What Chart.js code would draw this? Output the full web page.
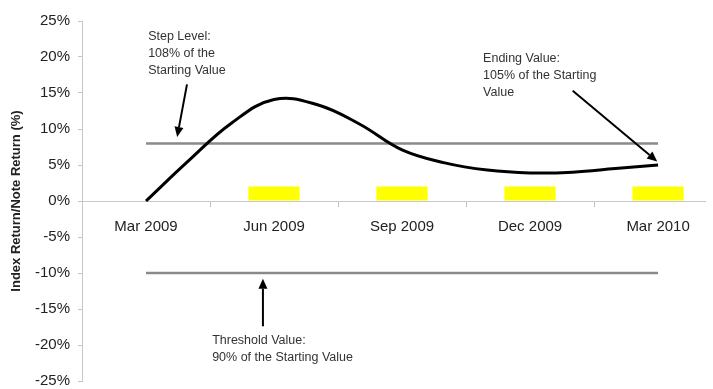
<!DOCTYPE html>
<html>
<head>
<meta charset="utf-8">
<script src="https://cdn.jsdelivr.net/npm/chart.js@4.4.1/dist/chart.umd.min.js"></script>
<style>
  html, body { margin: 0; padding: 0; background: #fff; }
  #wrap { width: 713px; height: 389px; }
</style>
</head>
<body>
<div id="wrap"><canvas id="chart" width="713" height="389"></canvas></div>
<script>
// monthly index return
var months = ["Mar 2009","Apr 2009","May 2009","Jun 2009","Jul 2009","Aug 2009","Sep 2009",
  "Oct 2009","Nov 2009","Dec 2009","Jan 2010","Feb 2010","Mar 2010"];
var indexReturn = [0, 5.6, 10.8, 14.1, 13.4, 10.7, 7.1, 5.3, 4.3, 3.9, 4.0, 4.5, 5.0];

var tickLabels = ["Mar 2009","Jun 2009","Sep 2009","Dec 2009","Mar 2010"];
var couponMonths = ["Jun 2009","Sep 2009","Dec 2009","Mar 2010"];
var couponValues = [2, 2, 2, 2];

var stepLevel = 8;
var thresholdLevel = -10;

// annotations, in chart values (x = month index, y = %)
var notes = [
  {lines: ["Step Level:", "108% of the", "Starting Value"], x: 0.05, y: 22.9},
  {lines: ["Ending Value:", "105% of the Starting", "Value"], x: 7.9, y: 19.8},
  {lines: ["Threshold Value:", "90% of the Starting Value"], x: 1.55, y: -19.4}
];
var arrows = [
  {from: [0.96, 16.2], to: [0.73, 8.9]},
  {from: [10.0, 15.3], to: [11.98, 5.5]},
  {from: [2.74, -17.4], to: [2.74, -10.8]}
];

var first = 0, last = months.length - 1;
var labelPos = tickLabels.map(function(l){ return months.indexOf(l); });

Chart.defaults.font.family = '"Liberation Sans", Arial, sans-serif';

var notePlugin = {
  id: 'notes',
  afterDatasetsDraw: function(chart) {
    var c = chart.ctx, xs = chart.scales.x, ys = chart.scales.y;
    c.save();
    c.font = '12.5px "Liberation Sans", Arial, sans-serif';
    c.fillStyle = '#333';
    c.textBaseline = 'middle';
    notes.forEach(function(n) {
      var px = xs.getPixelForValue(n.x), py = ys.getPixelForValue(n.y);
      n.lines.forEach(function(t, i) { c.fillText(t, px, py + i * 17); });
    });
    c.strokeStyle = '#000';
    c.fillStyle = '#000';
    c.lineWidth = 2;
    arrows.forEach(function(a) {
      var x1 = xs.getPixelForValue(a.from[0]), y1 = ys.getPixelForValue(a.from[1]);
      var x2 = xs.getPixelForValue(a.to[0]), y2 = ys.getPixelForValue(a.to[1]);
      var ang = Math.atan2(y2 - y1, x2 - x1);
      var hl = 10, hw = 4.5;
      var bx = x2 - hl * Math.cos(ang), by = y2 - hl * Math.sin(ang);
      c.beginPath();
      c.moveTo(x1, y1);
      c.lineTo(bx, by);
      c.stroke();
      c.beginPath();
      c.moveTo(x2, y2);
      c.lineTo(bx + hw * Math.sin(ang), by - hw * Math.cos(ang));
      c.lineTo(bx - hw * Math.sin(ang), by + hw * Math.cos(ang));
      c.closePath();
      c.fill();
    });
    c.restore();
  }
};

var ctx = document.getElementById('chart').getContext('2d');
var myChart = new Chart(ctx, {
  type: 'line',
  data: {
    datasets: [{
      label: 'Index Return',
      data: months.map(function(m, i){ return {x: i, y: indexReturn[i]}; }),
      borderColor: '#000',
      borderWidth: 3,
      tension: 0.4,
      pointRadius: 0,
      fill: false
    }, {
      label: 'Step Level',
      data: [{x: first, y: stepLevel}, {x: last, y: stepLevel}],
      borderColor: '#8a8a8a',
      borderWidth: 2.5,
      pointRadius: 0
    }, {
      label: 'Threshold Value',
      data: [{x: first, y: thresholdLevel}, {x: last, y: thresholdLevel}],
      borderColor: '#8a8a8a',
      borderWidth: 2.5,
      pointRadius: 0
    }, {
      type: 'bar',
      label: 'Coupon',
      data: couponMonths.map(function(m, i){ return {x: months.indexOf(m), y: couponValues[i]}; }),
      backgroundColor: '#ffff00',
      borderWidth: 0,
      categoryPercentage: 0.8,
      barPercentage: 1.0
    }]
  },
  options: {
    responsive: false,
    animation: false,
    layout: {padding: {top: 21, right: 8, bottom: 8, left: 0}},
    plugins: {legend: {display: false}, tooltip: {enabled: false}},
    scales: {
      x: {
        type: 'linear',
        position: {y: 0},
        offset: false,
        min: -1.5,
        max: 13.1,
        afterBuildTicks: function(s) {
          var vals = [];
          labelPos.forEach(function(p){ vals.push(p - 1.5, p, p + 1.5); });
          vals = vals.filter(function(v, i){ return vals.indexOf(v) === i && v >= s.min && v <= s.max; });
          vals.sort(function(a, b){ return a - b; });
          s.ticks = vals.map(function(v){ return {value: v}; });
        },
        afterFit: function(s) { s.height = 0; },
        ticks: {
          autoSkip: false, maxRotation: 0, padding: 12, color: '#222', font: {size: 15},
          callback: function(v) {
            var i = Math.round(v);
            return (Math.abs(v - i) < 1e-6 && labelPos.indexOf(i) >= 0) ? months[i] : '';
          }
        },
        grid: {
          offset: false, drawOnChartArea: false, tickLength: 5,
          tickColor: function(c) {
            var v = c.tick ? c.tick.value : 0;
            return Math.abs(v - Math.round(v)) > 1e-6 ? '#bdbdbd' : 'rgba(0,0,0,0)';
          }
        },
        border: {color: '#c8c8c8'}
      },
      y: {
        min: -25,
        max: 25,
        afterFit: function(s) { s.width = 82; s.paddingTop = 0; s.paddingBottom = 0; },
        ticks: {stepSize: 5, color: '#222', font: {size: 15}, padding: 8,
          callback: function(v){ return v + '%'; }},
        grid: {drawOnChartArea: false, tickLength: 4, color: '#c8c8c8'},
        border: {color: '#c8c8c8'},
        title: {display: true, text: 'Index Return/Note Return (%)', color: '#222',
          font: {size: 13, weight: 'bold'}, padding: {top: 9, bottom: 0}}
      }
    }
  },
  plugins: [notePlugin]
});
</script>
</body>
</html>
